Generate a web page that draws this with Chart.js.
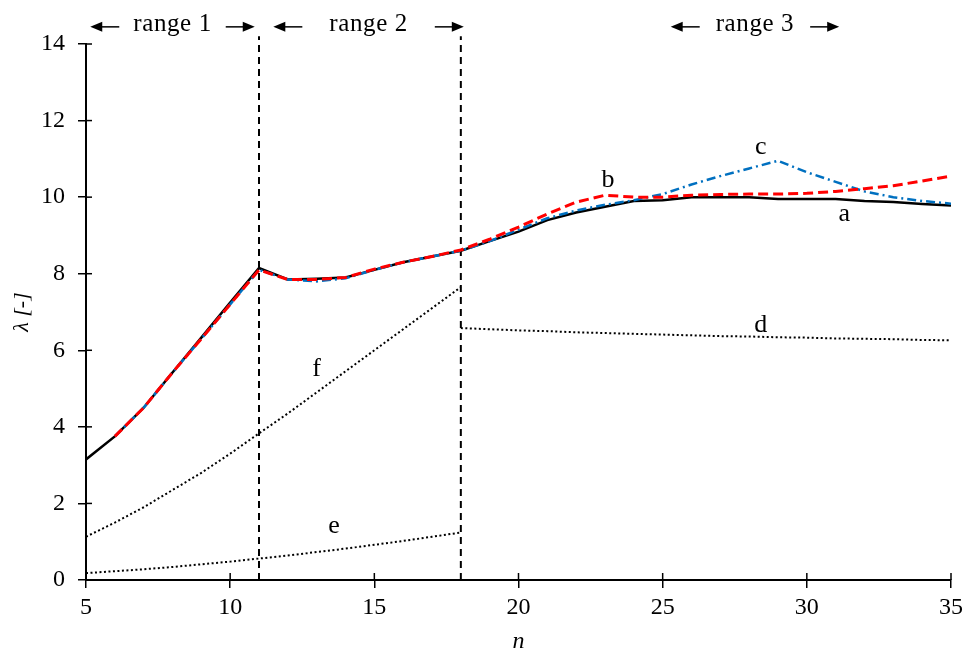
<!DOCTYPE html>
<html>
<head>
<meta charset="utf-8">
<script src="https://cdn.jsdelivr.net/npm/chart.js@4.4.1/dist/chart.umd.min.js"></script>
<style>
  html, body { margin: 0; padding: 0; background: #fff; }
  #wrap { width: 969px; height: 659px; position: relative; }
</style>
</head>
<body>
<div id="wrap"><canvas id="chart"></canvas></div>
<script>
// n values
const nFull = [5, 6, 7, 8, 9, 10, 11, 12, 13, 14, 15, 16, 17, 18, 19, 20,
  21, 22, 23, 24, 25, 26, 27, 28, 29, 30, 31, 32, 33, 34, 35];
const nFrom6 = nFull.slice(1);
const nLow = [5, 6, 7, 8, 9, 10, 11, 12, 13, 14, 15, 16, 17, 18];
const nHigh = [18, 19, 20, 21, 22, 23, 24, 25, 26, 27, 28, 29, 30, 31, 32, 33, 34, 35];

// curve a (solid black), from n = 5
const seriesA = [3.15, 3.75, 4.5, 5.42, 6.33, 7.25, 8.15, 7.85, 7.87, 7.9, 8.1, 8.3, 8.45, 8.6, 8.85, 9.1,
  9.4, 9.6, 9.75, 9.9, 9.92, 10.0, 10.0, 10.0, 9.95, 9.95, 9.95, 9.9, 9.87, 9.82, 9.78];
// curve b (red dashed), from n = 6
const seriesB = [3.75, 4.5, 5.42, 6.3, 7.2, 8.1, 7.85, 7.85, 7.9, 8.12, 8.3, 8.45, 8.62, 8.9, 9.22,
  9.56, 9.87, 10.05, 10.0, 10.0, 10.05, 10.07, 10.08, 10.08, 10.1, 10.15, 10.22, 10.3, 10.42, 10.55];
// curve c (blue dash-dot), from n = 6
const seriesC = [3.75, 4.5, 5.42, 6.3, 7.2, 8.1, 7.85, 7.8, 7.88, 8.1, 8.3, 8.45, 8.6, 8.85, 9.15,
  9.45, 9.65, 9.8, 9.92, 10.08, 10.33, 10.55, 10.75, 10.95, 10.65, 10.4, 10.15, 10.0, 9.9, 9.83];
// curve d (dotted), n = 18..35
const seriesD = [6.58, 6.55, 6.52, 6.5, 6.47, 6.45, 6.43, 6.41, 6.39, 6.37, 6.36, 6.34, 6.33, 6.31,
  6.3, 6.29, 6.27, 6.26];
// curve e (dotted), n = 5..18
const seriesE = [0.18, 0.23, 0.28, 0.34, 0.41, 0.48, 0.56, 0.64, 0.73, 0.82, 0.92, 1.02, 1.13, 1.24];
// curve f (dotted), n = 5..18
const seriesF = [1.13, 1.5, 1.9, 2.35, 2.8, 3.3, 3.83, 4.35, 4.9, 5.45, 6.0, 6.55, 7.1, 7.65];

// range boundaries (vertical dashed lines)
const boundaryN = [11, 18];
const boundaryTop = 14.2;

// range headers
const rangeLabels = ['range 1', 'range 2', 'range 3'];
const rangeCenters = [8, 14.8, 28.2];
const rangeY = 14.5;

// curve labels
const curveLabels = ['a', 'b', 'c', 'd', 'e', 'f'];
const curveLabelX = [31.3, 23.1, 28.4, 28.4, 13.6, 13.0];
const curveLabelY = [9.55, 10.45, 11.3, 6.65, 1.4, 5.5];

const xTicks = [5, 10, 15, 20, 25, 30, 35];
const yTicks = [0, 2, 4, 6, 8, 10, 12, 14];

const toPoints = (xs, ys) => xs.map((x, i) => ({ x, y: ys[i] }));

const SERIF = '"Liberation Serif", "DejaVu Serif", serif';

const datasets = [
  {
    data: toPoints(nFrom6, seriesB),
    borderColor: '#ff0000',
    borderWidth: 3,
    borderDash: [10, 5],
    order: 1,
  },
  {
    data: toPoints(nFrom6, seriesC),
    borderColor: '#0070c0',
    borderWidth: 2.5,
    borderDash: [9, 4, 2, 4],
    order: 2,
  },
  {
    data: toPoints(nFull, seriesA),
    borderColor: '#000',
    borderWidth: 2.5,
    order: 3,
  },
  {
    data: toPoints(nHigh, seriesD),
    borderColor: '#000',
    borderWidth: 2,
    borderDash: [2, 2.5],
    order: 4,
  },
  {
    data: toPoints(nLow, seriesE),
    borderColor: '#000',
    borderWidth: 2,
    borderDash: [2, 2.5],
    order: 4,
  },
  {
    data: toPoints(nLow, seriesF),
    borderColor: '#000',
    borderWidth: 2,
    borderDash: [2, 2.5],
    order: 4,
  },
];

boundaryN.forEach((n) => {
  datasets.push({
    data: [{ x: n, y: 0 }, { x: n, y: boundaryTop }],
    borderColor: '#000',
    borderWidth: 2,
    borderDash: [7, 5],
    clip: false,
    order: 5,
  });
});

// inner halves of tick marks, range headers and curve letters
const decorations = {
  id: 'decorations',
  afterDraw(chart) {
    const { ctx, scales: { x, y }, chartArea } = chart;
    ctx.save();
    ctx.strokeStyle = '#000';
    ctx.lineWidth = 1.5;
    xTicks.forEach((v) => {
      const px = x.getPixelForValue(v);
      ctx.beginPath();
      ctx.moveTo(px, chartArea.bottom);
      ctx.lineTo(px, chartArea.bottom - 7);
      ctx.stroke();
    });
    yTicks.forEach((v) => {
      const py = y.getPixelForValue(v);
      ctx.beginPath();
      ctx.moveTo(chartArea.left, py);
      ctx.lineTo(chartArea.left + 6, py);
      ctx.stroke();
    });

    ctx.fillStyle = '#000';
    ctx.textAlign = 'center';
    ctx.textBaseline = 'middle';
    ctx.font = `25px ${SERIF}`;
    ctx.letterSpacing = '0.6px';
    const gaps = [14, 27, 16];
    rangeLabels.forEach((label, i) => {
      const cx = x.getPixelForValue(rangeCenters[i]);
      const cy = y.getPixelForValue(rangeY);
      ctx.fillText(label, cx, cy);
      const w = ctx.measureText(label).width;
      const l1 = cx - w / 2 - gaps[i];
      const r1 = cx + w / 2 + gaps[i];
      const ay = cy + 2;
      // left arrow
      ctx.beginPath();
      ctx.moveTo(l1, ay);
      ctx.lineTo(l1 - 26, ay);
      ctx.stroke();
      ctx.beginPath();
      ctx.moveTo(l1 - 29, ay);
      ctx.lineTo(l1 - 17, ay - 5);
      ctx.lineTo(l1 - 17, ay + 5);
      ctx.closePath();
      ctx.fill();
      // right arrow
      ctx.beginPath();
      ctx.moveTo(r1, ay);
      ctx.lineTo(r1 + 26, ay);
      ctx.stroke();
      ctx.beginPath();
      ctx.moveTo(r1 + 29, ay);
      ctx.lineTo(r1 + 17, ay - 5);
      ctx.lineTo(r1 + 17, ay + 5);
      ctx.closePath();
      ctx.fill();
    });
    ctx.letterSpacing = '0px';

    ctx.font = `26px ${SERIF}`;
    curveLabels.forEach((label, i) => {
      ctx.fillText(label, x.getPixelForValue(curveLabelX[i]), y.getPixelForValue(curveLabelY[i]));
    });
    ctx.restore();
  },
};

new Chart(document.getElementById('chart'), {
  type: 'line',
  data: { datasets },
  options: {
    responsive: true,
    maintainAspectRatio: false,
    animation: false,
    layout: { padding: { left: 0, top: 44, right: 18, bottom: 0 } },
    elements: {
      point: { radius: 0 },
      line: { tension: 0, fill: false, borderCapStyle: 'butt' },
    },
    plugins: {
      legend: { display: false },
      tooltip: { enabled: false },
    },
    scales: {
      x: {
        type: 'linear',
        min: 5,
        max: 35,
        afterFit: (s) => { s.height = 79; },
        afterBuildTicks: (s) => { s.ticks = xTicks.map((v) => ({ value: v })); },
        border: { color: '#000', width: 2 },
        grid: { drawOnChartArea: false, color: '#000', lineWidth: 1.5, tickLength: 8 },
        ticks: { color: '#000', padding: 5, font: { family: SERIF, size: 24 }, maxRotation: 0 },
        title: {
          display: true,
          text: 'n',
          color: '#000',
          font: { family: SERIF, size: 24, style: 'italic' },
          padding: { top: 0, bottom: 3 },
        },
      },
      y: {
        type: 'linear',
        min: 0,
        max: 14,
        afterFit: (s) => { s.width = 86; },
        afterBuildTicks: (s) => { s.ticks = yTicks.map((v) => ({ value: v })); },
        border: { color: '#000', width: 2 },
        grid: { drawOnChartArea: false, color: '#000', lineWidth: 1.5, tickLength: 8 },
        ticks: { color: '#000', padding: 13, font: { family: SERIF, size: 24 } },
        title: {
          display: true,
          text: 'λ [-]',
          color: '#000',
          font: { family: SERIF, size: 22, style: 'italic' },
          padding: { top: 9, bottom: 0 },
        },
      },
    },
  },
  plugins: [decorations],
});
</script>
</body>
</html>
